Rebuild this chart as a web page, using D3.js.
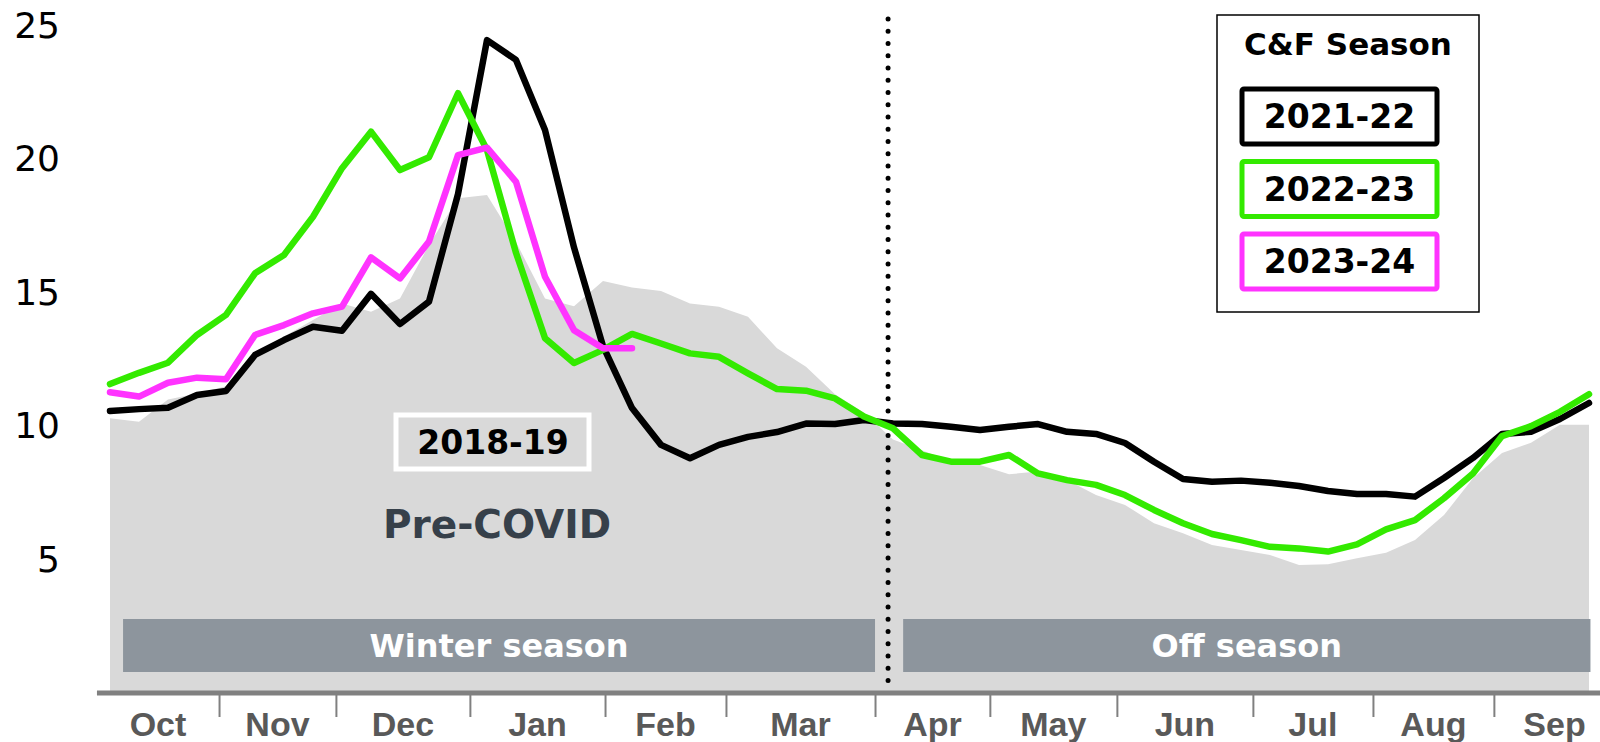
<!DOCTYPE html>
<html>
<head>
<meta charset="utf-8">
<script src="https://cdn.jsdelivr.net/npm/d3@7"></script>
<style>
  body { margin: 0; background: #fff; }
  svg { display: block; font-family: "DejaVu Sans", Verdana, sans-serif; }
</style>
</head>
<body>
<div class="canvas"></div>
<script>
// Weekly values, week 0 = first week of October
const season1819 = [10.3, 10.17, 11.0, 11.23, 11.5, 12.73, 13.36, 13.98, 14.6, 14.29, 14.79, 16.79, 18.54, 18.67, 16.9, 14.79, 14.5, 15.44, 15.2, 15.07, 14.6, 14.48, 14.1, 12.92, 12.23, 11.2, 10.5, 9.5, 9.1, 8.67, 8.55, 8.2, 8.3, 7.98, 7.42, 7.05, 6.36, 5.99, 5.55, 5.36, 5.17, 4.8, 4.83, 5.05, 5.26, 5.73, 6.67, 8.05, 9.0, 9.38, 10.05, 10.05]
const season2122 = [10.57, 10.64, 10.69, 11.17, 11.32, 12.67, 13.23, 13.73, 13.58, 14.96, 13.83, 14.67, 18.7, 24.47, 23.73, 21.1, 16.7, 13.0, 10.68, 9.3, 8.8, 9.3, 9.6, 9.78, 10.1, 10.08, 10.23, 10.1, 10.08, 9.98, 9.86, 9.98, 10.08, 9.79, 9.71, 9.37, 8.67, 8.02, 7.92, 7.96, 7.88, 7.76, 7.57, 7.46, 7.46, 7.36, 8.06, 8.81, 9.71, 9.79, 10.27, 10.87]
const season2223 = [11.58, 12.0, 12.38, 13.42, 14.17, 15.73, 16.42, 17.85, 19.67, 21.04, 19.6, 20.08, 22.48, 20.35, 16.5, 13.3, 12.37, 12.86, 13.46, 13.1, 12.73, 12.6, 11.98, 11.39, 11.33, 11.04, 10.36, 9.92, 8.92, 8.67, 8.67, 8.92, 8.23, 7.98, 7.8, 7.42, 6.86, 6.36, 5.96, 5.73, 5.48, 5.42, 5.3, 5.57, 6.13, 6.48, 7.3, 8.23, 9.63, 10.0, 10.54, 11.2]
const season2324 = [11.27, 11.11, 11.63, 11.82, 11.76, 13.42, 13.79, 14.23, 14.48, 16.33, 15.54, 16.92, 20.16, 20.44, 19.16, 15.6, 13.6, 12.92, 12.92]

const seriesNames = ['2021-22', '2022-23', '2023-24']
const seriesColors = ['#000000', '#33ea00', '#ff33ff']

// Month tick positions (in weeks) and labels
const monthLabels = ['Oct', 'Nov', 'Dec', 'Jan', 'Feb', 'Mar', 'Apr', 'May', 'Jun', 'Jul', 'Aug', 'Sep']
const monthBreaks = [3.76, 7.79, 12.41, 17.07, 21.24, 26.38, 30.34, 34.72, 39.41, 43.55, 47.72]
const axisExtent = [-0.45, 51.9]
const yTicks = [5, 10, 15, 20, 25]

// Season bands and divider (in weeks)
const bands = [
  {label: 'Winter season', from: 0.45, to: 26.38},
  {label: 'Off season', from: 27.35, to: 51.05}
]
const divider = 26.83

const width = 1600
const height = 742

const svg = d3.select('.canvas')
  .append('svg')
    .attr('width', width)
    .attr('height', height)

const x = d3.scaleLinear()
  .domain([0, 51])
  .range([110, 1589])

const y = d3.scaleLinear()
  .domain([0, 25])
  .range([693, 26])

// Pre-COVID area
const area = d3.area()
  .x((d, i) => x(i))
  .y0(y(0))
  .y1((d) => y(d))

svg.append('path')
  .datum(season1819)
  .attr('d', area)
  .attr('fill', '#d9d9d9')

// Season bands
const bandG = svg.append('g')
bandG.selectAll('rect')
  .data(bands)
  .enter()
  .append('rect')
    .attr('x', (d) => x(d.from))
    .attr('width', (d) => x(d.to) - x(d.from))
    .attr('y', 619)
    .attr('height', 53)
    .attr('fill', '#8d959d')

bandG.selectAll('text')
  .data(bands)
  .enter()
  .append('text')
    .attr('x', (d) => (x(d.from) + x(d.to)) / 2)
    .attr('y', 657)
    .attr('text-anchor', 'middle')
    .attr('fill', '#fff')
    .attr('font-weight', 'bold')
    .attr('font-size', 32)
    .text((d) => d.label)

// 2018-19 label and Pre-COVID
svg.append('rect')
  .attr('x', 396)
  .attr('y', 415)
  .attr('width', 193)
  .attr('height', 54)
  .attr('fill', '#d9d9d9')
  .attr('stroke', '#fff')
  .attr('stroke-width', 5)

svg.append('text')
  .attr('x', 493)
  .attr('y', 454)
  .attr('text-anchor', 'middle')
  .attr('font-weight', 'bold')
  .attr('font-size', 33)
  .attr('fill', '#000')
  .text('2018-19')

svg.append('text')
  .attr('x', 497)
  .attr('y', 538)
  .attr('text-anchor', 'middle')
  .attr('font-weight', 'bold')
  .attr('font-size', 39)
  .attr('fill', '#36404a')
  .text('Pre-COVID')

// Dotted divider
svg.append('line')
  .attr('x1', x(divider))
  .attr('x2', x(divider))
  .attr('y1', 19)
  .attr('y2', 684)
  .attr('stroke', '#000')
  .attr('stroke-width', 5)
  .attr('stroke-linecap', 'round')
  .attr('stroke-dasharray', '0 12.25')

// Lines
const line = d3.line()
  .x((d, i) => x(i))
  .y((d) => y(d))

const seriesData = [season2122, season2223, season2324]

svg.append('g')
  .selectAll('path')
  .data(seriesData)
  .enter()
  .append('path')
    .attr('d', line)
    .attr('fill', 'none')
    .attr('stroke', (d, i) => seriesColors[i])
    .attr('stroke-width', 6.5)
    .attr('stroke-linejoin', 'round')
    .attr('stroke-linecap', 'round')

// X axis
const xAxis = d3.axisBottom(x)
  .tickValues(monthBreaks)
  .tickSize(24)
  .tickFormat('')

const xAxisG = svg.append('g')
  .attr('transform', `translate(0, ${y(0)})`)
  .call(xAxis)

xAxisG.select('.domain').remove()
xAxisG.selectAll('.tick line')
  .attr('stroke', '#808080')
  .attr('stroke-width', 2)

xAxisG.append('line')
  .attr('x1', x(axisExtent[0]))
  .attr('x2', width)
  .attr('stroke', '#808080')
  .attr('stroke-width', 5)

const bounds = [axisExtent[0], ...monthBreaks, axisExtent[1]]
xAxisG.selectAll('.month')
  .data(monthLabels)
  .enter()
  .append('text')
    .attr('class', 'month')
    .attr('x', (d, i) => x((bounds[i] + bounds[i + 1]) / 2))
    .attr('y', 43)
    .attr('text-anchor', 'middle')
    .attr('font-weight', 'bold')
    .attr('font-size', 34)
    .attr('fill', '#595959')
    .text((d) => d)

// Y axis
const yAxis = d3.axisLeft(y)
  .tickValues(yTicks)
  .tickSize(0)
  .tickPadding(0)

const yAxisG = svg.append('g')
  .attr('transform', 'translate(60, 0)')
  .call(yAxis)

yAxisG.select('.domain').remove()
yAxisG.selectAll('text')
  .attr('font-family', '"DejaVu Sans", Verdana, sans-serif')
  .attr('font-size', 36)
  .attr('fill', '#000')

// Legend
const legend = svg.append('g')

legend.append('rect')
  .attr('x', 1217)
  .attr('y', 15)
  .attr('width', 262)
  .attr('height', 297)
  .attr('fill', '#fff')
  .attr('stroke', '#000')
  .attr('stroke-width', 1.5)

legend.append('text')
  .attr('x', 1348)
  .attr('y', 55)
  .attr('text-anchor', 'middle')
  .attr('font-weight', 'bold')
  .attr('font-size', 31)
  .text('C&F Season')

const items = legend.selectAll('.item')
  .data(seriesNames)
  .enter()
  .append('g')
    .attr('class', 'item')
    .attr('transform', (d, i) => `translate(1242, ${89 + i * 72.5})`)

items.append('rect')
  .attr('width', 195)
  .attr('height', 55)
  .attr('rx', 2)
  .attr('fill', '#fff')
  .attr('stroke', (d, i) => seriesColors[i])
  .attr('stroke-width', 5)

items.append('text')
  .attr('x', 97.5)
  .attr('y', 39)
  .attr('text-anchor', 'middle')
  .attr('font-weight', 'bold')
  .attr('font-size', 33)
  .attr('fill', '#000')
  .text((d) => d)
</script>
</body>
</html>
